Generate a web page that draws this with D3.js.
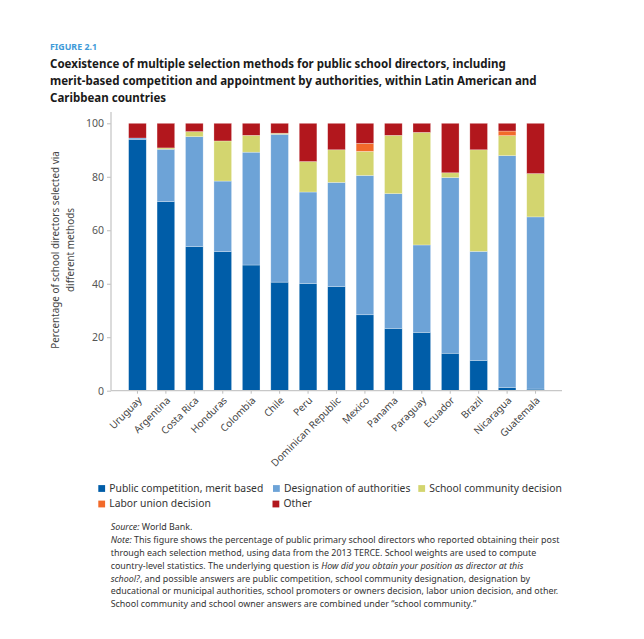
<!DOCTYPE html>
<html><head><meta charset="utf-8">
<script src="https://cdn.jsdelivr.net/npm/d3@7"></script>
<style>body{margin:0;background:#fff}svg{display:block}</style>
</head><body>
<svg id="chart" width="644" height="639"></svg>
<script>
// ---- data ----
const countries = ["Uruguay","Argentina","Costa Rica","Honduras","Colombia","Chile","Peru","Dominican Republic","Mexico","Panama","Paraguay","Ecuador","Brazil","Nicaragua","Guatemala"];
const merit       = [94.0, 70.7, 53.9, 52.0, 47.0, 40.6, 40.1, 38.9, 28.4, 23.3, 21.8, 14.0, 11.3,  1.2,  0.6];
const designation = [ 0.5, 19.6, 41.1, 26.4, 42.2, 55.3, 34.2, 39.0, 52.1, 50.4, 32.7, 65.7, 40.8, 86.7, 64.4];
const community   = [ 0.0,  0.5,  1.9, 15.0,  6.3,  0.4, 11.4, 12.2,  9.0, 21.8, 42.1,  1.8, 38.0,  7.5, 16.2];
const labor       = [ 0.0,  0.0,  0.0,  0.0,  0.0,  0.0,  0.0,  0.0,  3.0,  0.0,  0.0,  0.0,  0.0,  1.7,  0.0];
const other       = [ 5.5,  9.2,  3.1,  6.6,  4.5,  3.7, 14.3,  9.9,  7.5,  4.5,  3.4, 18.5,  9.9,  2.9, 18.8];
const seriesKeys  = ["merit","designation","community","labor","other"];
const seriesNames = ["Public competition, merit based","Designation of authorities","School community decision","Labor union decision","Other"];
const seriesColors= ["#005DA8","#6DA3D7","#D3D56F","#F26A2A","#B2171D"];
const yTicks = [0,20,40,60,80,100];
const figLabel = "FIGURE 2.1";
const titleLines = [
  "Coexistence of multiple selection methods for public school directors, including",
  "merit-based competition and appointment by authorities, within Latin American and",
  "Caribbean countries"
];
const yLabelLines = ["Percentage of school directors selected via","different methods"];
// note lines: arrays of [text, italic]
const noteLines = [
  [["Source:",true],[" World Bank.",false]],
  [["Note:",true],[" This figure shows the percentage of public primary school directors who reported obtaining their post",false]],
  [["through each selection method, using data from the 2013 TERCE. School weights are used to compute",false]],
  [["country-level statistics. The underlying question is ",false],["How did you obtain your position as director at this",true]],
  [["school?",true],[", and possible answers are public competition, school community designation, designation by",false]],
  [["educational or municipal authorities, school promoters or owners decision, labor union decision, and other.",false]],
  [["School community and school owner answers are combined under \u201cschool community.\u201d",false]]
];

// ---- build table ----
const table = countries.map((c,i)=>({country:c, merit:merit[i], designation:designation[i], community:community[i], labor:labor[i], other:other[i]}));
const stacked = d3.stack().keys(seriesKeys)(table);

const FONT = "'Noto Sans', 'Open Sans', sans-serif";
const svg = d3.select("#chart").style("font-family", FONT);

const x = d3.scaleBand().domain(countries).range([111, 562]).paddingInner(0.38).paddingOuter(0.62);
const y = d3.scaleLinear().domain([0,100]).range([390.7, 123.3]);

function fitGroup(sel, refNode, target, base){
  const w = refNode.getComputedTextLength();
  const fs = base * target / w;
  sel.attr("font-size", fs);
  return fs;
}

// ---- title ----
const fig = svg.append("text").attr("x",50).attr("y",50).attr("font-weight","bold")
  .attr("fill","#3E9AD8").attr("font-size",9).text(figLabel);
fitGroup(fig, fig.node(), 47, 9);

const tl = svg.append("g").attr("font-weight","bold").attr("fill","#1a1a1a");
const tlines = tl.selectAll("text").data(titleLines).join("text")
  .attr("x",50).attr("y",(d,i)=>67.5 + i*17.2).attr("font-size",12).text(d=>d);
fitGroup(tlines, tlines.nodes()[1], 487, 12);

// ---- y axis ----
const yAxisG = svg.append("g").attr("transform","translate(111,0)")
  .call(d3.axisLeft(y).tickValues(yTicks).tickSize(4).tickPadding(3).tickSizeOuter(0));
yAxisG.select(".domain").remove();
yAxisG.selectAll(".tick line").attr("stroke","#bdbdbd");
yAxisG.selectAll(".tick text").attr("fill","#555").attr("font-size",10.5).attr("font-family",FONT);
svg.append("line").attr("x1",111).attr("x2",111).attr("y1",112).attr("y2",y(0))
  .attr("stroke","#c8c8c8").attr("stroke-width",1.3);

// y label
const yl = svg.append("g").attr("fill","#444").attr("text-anchor","middle");
yl.selectAll("text").data(yLabelLines).join("text")
  .attr("transform",(d,i)=>`translate(${59 + i*15},250) rotate(-90)`)
  .attr("font-size",9.9).text(d=>d);

// ---- bars ----
svg.append("g").selectAll("g").data(stacked).join("g")
  .attr("fill",(d,i)=>seriesColors[i])
  .selectAll("rect").data(d=>d.filter(v=>v[1]-v[0]>0)).join("rect")
  .attr("x",d=>x(d.data.country)).attr("width",x.bandwidth())
  .attr("y",d=>y(d[1])).attr("height",d=>y(d[0])-y(d[1]))
  .attr("stroke","rgba(255,255,255,0.45)").attr("stroke-width",0.6);

// ---- x axis ----
const xAxisG = svg.append("g").attr("transform",`translate(0,${y(0)})`)
  .call(d3.axisBottom(x).tickSize(3).tickSizeOuter(0).tickFormat(""));
xAxisG.select(".domain").remove();
xAxisG.selectAll(".tick line").attr("stroke","#bdbdbd");
svg.append("line").attr("x1",111).attr("x2",562).attr("y1",y(0)).attr("y2",y(0))
  .attr("stroke","#c8c8c8").attr("stroke-width",1.3);
svg.append("g").attr("fill","#444").attr("text-anchor","end")
  .selectAll("text").data(countries).join("text")
  .attr("transform",d=>`translate(${x(d)+x.bandwidth()/2+5},401) rotate(-45)`)
  .attr("font-size",10).text(d=>d);

// ---- legend ----
const legendItems = [
  {i:0, x:98.3, y:488.5},{i:1, x:273, y:488.5},{i:2, x:418.3, y:488.5},
  {i:3, x:98.3, y:504},{i:4, x:272.5, y:504}
];
const lg = svg.append("g");
lg.selectAll("rect").data(legendItems).join("rect")
  .attr("x",d=>d.x).attr("y",d=>d.y-3.4).attr("width",6.8).attr("height",6.8)
  .attr("fill",d=>seriesColors[d.i]);
const ltext = lg.selectAll("text").data(legendItems).join("text")
  .attr("x",d=>d.x+11).attr("y",d=>d.y+3.3).attr("fill","#333").attr("font-size",9.5)
  .text(d=>seriesNames[d.i]);
fitGroup(ltext, ltext.nodes()[0], 154, 9.5);

// ---- note ----
const ng = svg.append("g").attr("fill","#333");
const nlines = ng.selectAll("text").data(noteLines).join("text")
  .attr("x",0).attr("y",(d,i)=>530.5 + i*12.8).attr("font-size",8.6);
nlines.selectAll("tspan").data(d=>d).join("tspan")
  .attr("font-style",d=>d[1]?"italic":"normal").text(d=>d[0]);
const nw = nlines.nodes()[1].getComputedTextLength();
ng.attr("transform",`translate(110.7,0) scale(${448.6/nw},1)`);
</script>
</body></html>
